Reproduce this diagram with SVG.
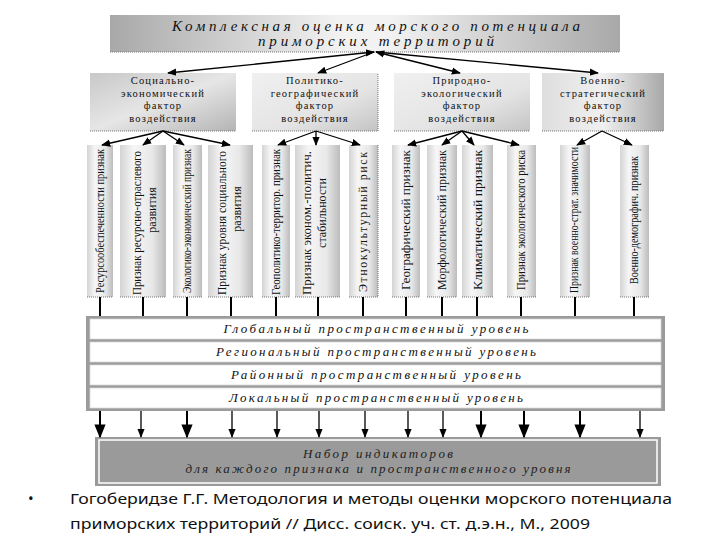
<svg xmlns="http://www.w3.org/2000/svg" width="720" height="540" viewBox="0 0 720 540">
<defs>
<linearGradient id="gTitle" x1="0" y1="0" x2="1" y2="0">
<stop offset="0" stop-color="#a8a8a8"/><stop offset="0.45" stop-color="#f2f2f2"/><stop offset="0.55" stop-color="#f2f2f2"/><stop offset="1" stop-color="#a8a8a8"/>
</linearGradient>
<linearGradient id="gF1" x1="0" y1="0" x2="1" y2="1">
<stop offset="0" stop-color="#c8c8c8"/><stop offset="0.5" stop-color="#e6e6e6"/><stop offset="1" stop-color="#b4b4b4"/>
</linearGradient>
<linearGradient id="gF2" x1="0" y1="0" x2="1" y2="1">
<stop offset="0" stop-color="#f0f0f0"/><stop offset="0.6" stop-color="#e4e4e4"/><stop offset="1" stop-color="#c4c4c4"/>
</linearGradient>
<linearGradient id="gF4" x1="0" y1="0" x2="1" y2="0">
<stop offset="0" stop-color="#dedede"/><stop offset="0.5" stop-color="#f0f0f0"/><stop offset="1" stop-color="#a8a8a8"/>
</linearGradient>
<linearGradient id="gCol" x1="0" y1="0" x2="1" y2="0">
<stop offset="0" stop-color="#d4d4d4"/><stop offset="0.3" stop-color="#f6f6f6"/><stop offset="0.7" stop-color="#e8e8e8"/><stop offset="1" stop-color="#bcbcbc"/>
</linearGradient>
<marker id="ah" viewBox="0 0 10 10" refX="9" refY="5" markerWidth="7" markerHeight="7" orient="auto-start-reverse">
<path d="M0,1 L10,5 L0,9 z" fill="#000"/>
</marker>
</defs>
<style>
.ttl{font-family:'Liberation Serif','DejaVu Serif',serif;font-style:italic;font-size:15px;fill:#111;text-anchor:middle;}
.fac{font-family:'Liberation Serif','DejaVu Serif',serif;font-size:10.5px;fill:#111;text-anchor:middle;letter-spacing:1.2px;}
.col{font-family:'Liberation Serif','DejaVu Serif',serif;font-size:12px;fill:#111;text-anchor:middle;}
.lvl{font-family:'Liberation Serif','DejaVu Serif',serif;font-style:italic;font-size:13px;fill:#111;text-anchor:middle;}
.ind{font-family:'Liberation Serif','DejaVu Serif',serif;font-style:italic;font-size:13px;fill:#222;text-anchor:middle;}
.foot{font-family:'Noto Sans','Liberation Sans',sans-serif;font-size:15px;fill:#111;}
.dot{stroke:#777;stroke-width:1;stroke-dasharray:1,1;fill:none;}
.cn{stroke:#000;stroke-width:1.3;fill:none;}
.vl{stroke:#000;stroke-width:2;fill:none;}
.colbox{fill:url(#gCol);}
</style>

<g id="title">
<rect x="110" y="15" width="510" height="37" fill="url(#gTitle)"/>
<line class="dot" x1="110" y1="52" x2="620" y2="52"/>
<text class="ttl" x="376" y="31" textLength="408" lengthAdjust="spacing">Комплексная оценка морского потенциала</text>
<text class="ttl" x="376" y="46" textLength="236" lengthAdjust="spacing">приморских территорий</text>
</g>

<g id="factor1">
<rect x="90" y="73" width="146" height="58" fill="url(#gF1)"/>
<line class="dot" x1="90" y1="131" x2="236" y2="131"/>
<text class="fac" x="163" y="84">Социально-</text>
<text class="fac" x="163" y="96.5">экономический</text>
<text class="fac" x="163" y="109">фактор</text>
<text class="fac" x="163" y="121.5">воздействия</text>
</g>
<g id="factor2">
<rect x="252" y="73" width="126" height="58" fill="url(#gF2)"/>
<path class="dot" d="M252,131 H378 V73"/>
<text class="fac" x="315" y="84">Политико-</text>
<text class="fac" x="315" y="96.5">географический</text>
<text class="fac" x="315" y="109">фактор</text>
<text class="fac" x="315" y="121.5">воздействия</text>
</g>
<g id="factor3">
<rect x="394" y="73" width="136" height="58" fill="url(#gF2)"/>
<line class="dot" x1="394" y1="131" x2="530" y2="131"/>
<text class="fac" x="462" y="84">Природно-</text>
<text class="fac" x="462" y="96.5">экологический</text>
<text class="fac" x="462" y="109">фактор</text>
<text class="fac" x="462" y="121.5">воздействия</text>
</g>
<g id="factor4">
<rect x="542" y="73" width="122" height="58" fill="url(#gF4)"/>
<line class="dot" x1="542" y1="131" x2="664" y2="131"/>
<text class="fac" x="603" y="84">Военно-</text>
<text class="fac" x="603" y="96.5">стратегический</text>
<text class="fac" x="603" y="109">фактор</text>
<text class="fac" x="603" y="121.5">воздействия</text>
</g>

<g id="c1"><rect class="colbox" x="87" y="145" width="26" height="152"/><line class="dot" x1="87" y1="297" x2="113" y2="297"/>
<text class="col" transform="translate(104,221) rotate(-90)" textLength="144" lengthAdjust="spacingAndGlyphs">Ресурсообеспеченности признак</text></g>
<g id="c2"><rect class="colbox" x="120" y="145" width="46" height="152"/><line class="dot" x1="120" y1="297" x2="166" y2="297"/>
<text class="col" transform="translate(141,223) rotate(-90)" textLength="144" lengthAdjust="spacingAndGlyphs">Признак ресурсно-отраслевого</text>
<text class="col" transform="translate(156,210) rotate(-90)">развития</text></g>
<g id="c3"><rect class="colbox" x="173" y="145" width="29" height="152"/><line class="dot" x1="173" y1="297" x2="202" y2="297"/>
<text class="col" transform="translate(191,221) rotate(-90)" textLength="144" lengthAdjust="spacingAndGlyphs">Экологико-экономический признак</text></g>
<g id="c4"><rect class="colbox" x="208" y="145" width="45" height="152"/><line class="dot" x1="208" y1="297" x2="253" y2="297"/>
<text class="col" transform="translate(226,223) rotate(-90)" textLength="144" lengthAdjust="spacingAndGlyphs">Признак уровня социального</text>
<text class="col" transform="translate(241,209) rotate(-90)">развития</text></g>
<g id="c5"><rect class="colbox" x="262" y="145" width="28" height="152"/><line class="dot" x1="262" y1="297" x2="290" y2="297"/>
<text class="col" transform="translate(280,222) rotate(-90)" textLength="146" lengthAdjust="spacingAndGlyphs">Геополитико-территор. признак</text></g>
<g id="c6"><rect class="colbox" x="295" y="145" width="45" height="152"/><line class="dot" x1="295" y1="297" x2="340" y2="297"/>
<text class="col" transform="translate(311,223) rotate(-90)" textLength="144" lengthAdjust="spacingAndGlyphs">Признак эконом.-политич.</text>
<text class="col" transform="translate(326,213) rotate(-90)">стабильности</text></g>
<g id="c7"><rect class="colbox" x="349" y="145" width="29" height="152"/><path class="dot" d="M349,297 H378 V145"/>
<text class="col" transform="translate(367,222) rotate(-90)" textLength="140" lengthAdjust="spacing">Этнокультурный риск</text></g>
<g id="c8"><rect class="colbox" x="392" y="145" width="28" height="152"/><line class="dot" x1="392" y1="297" x2="420" y2="297"/>
<text class="col" transform="translate(410,220) rotate(-90)" textLength="140" lengthAdjust="spacingAndGlyphs">Географический признак</text></g>
<g id="c9"><rect class="colbox" x="427" y="145" width="30" height="152"/><line class="dot" x1="427" y1="297" x2="457" y2="297"/>
<text class="col" transform="translate(446,220) rotate(-90)" textLength="140" lengthAdjust="spacingAndGlyphs">Морфологический признак</text></g>
<g id="c10"><rect class="colbox" x="462" y="145" width="31" height="152"/><line class="dot" x1="462" y1="297" x2="493" y2="297"/>
<text class="col" transform="translate(482,220) rotate(-90)" textLength="140" lengthAdjust="spacingAndGlyphs">Климатический признак</text></g>
<g id="c11"><rect class="colbox" x="507" y="145" width="29" height="152"/><line class="dot" x1="507" y1="297" x2="536" y2="297"/>
<text class="col" transform="translate(525,220) rotate(-90)" textLength="140" lengthAdjust="spacingAndGlyphs">Признак экологического риска</text></g>
<g id="c12"><rect class="colbox" x="560" y="145" width="30" height="152"/><line class="dot" x1="560" y1="297" x2="590" y2="297"/>
<text class="col" transform="translate(578,220) rotate(-90)" textLength="146" lengthAdjust="spacingAndGlyphs">Признак военно-страт. значимости</text></g>
<g id="c13"><rect class="colbox" x="620" y="145" width="29" height="152"/><line class="dot" x1="620" y1="297" x2="649" y2="297"/>
<text class="col" transform="translate(638,220) rotate(-90)" textLength="128" lengthAdjust="spacingAndGlyphs">Военно-демографич. признак</text></g>

<g id="levels">
<rect x="86" y="316" width="579" height="95" fill="#9b9b9b"/>
<rect x="90" y="319" width="571" height="20" fill="#fff" stroke="#d8d8d8" stroke-width="0.8"/>
<rect x="90" y="342" width="571" height="20" fill="#fff" stroke="#d8d8d8" stroke-width="0.8"/>
<rect x="90" y="365" width="571" height="20" fill="#fff" stroke="#d8d8d8" stroke-width="0.8"/>
<rect x="90" y="388" width="571" height="20" fill="#fff" stroke="#d8d8d8" stroke-width="0.8"/>
<text class="lvl" x="376" y="333" textLength="305" lengthAdjust="spacing">Глобальный пространственный уровень</text>
<text class="lvl" x="376" y="356" textLength="320" lengthAdjust="spacing">Региональный пространственный уровень</text>
<text class="lvl" x="376" y="379" textLength="290" lengthAdjust="spacing">Районный пространственный уровень</text>
<text class="lvl" x="376" y="402" textLength="294" lengthAdjust="spacing">Локальный пространственный уровень</text>
</g>

<g id="indicators">
<rect x="95" y="437" width="566" height="49" fill="#9a9a9a"/>
<rect x="99" y="440" width="558" height="43" fill="none" stroke="#fff" stroke-width="1.5"/>
<text class="ind" x="378" y="458" textLength="150" lengthAdjust="spacing">Набор индикаторов</text>
<text class="ind" x="378" y="473" textLength="385" lengthAdjust="spacing">для каждого признака и пространственного уровня</text>
</g>

<g id="connectors">
<line class="cn" x1="374" y1="52" x2="168" y2="73" marker-end="url(#ah)" marker-start="url(#ah)"/>
<line class="cn" x1="374" y1="52" x2="318" y2="73" marker-end="url(#ah)"/>
<line class="cn" x1="376" y1="52" x2="460" y2="73" marker-end="url(#ah)" marker-start="url(#ah)"/>
<line class="cn" x1="376" y1="52" x2="598" y2="73" marker-end="url(#ah)"/>

<line class="cn" x1="163" y1="131" x2="102" y2="145" marker-end="url(#ah)"/>
<line class="cn" x1="163" y1="131" x2="143" y2="145" marker-end="url(#ah)"/>
<line class="cn" x1="163" y1="131" x2="184" y2="145" marker-end="url(#ah)"/>
<line class="cn" x1="163" y1="131" x2="230" y2="145" marker-end="url(#ah)"/>
<line class="cn" x1="316" y1="131" x2="278" y2="145" marker-end="url(#ah)"/>
<line class="cn" x1="316" y1="131" x2="316" y2="145" marker-end="url(#ah)"/>
<line class="cn" x1="316" y1="131" x2="360" y2="145" marker-end="url(#ah)"/>
<line class="cn" x1="462" y1="131" x2="408" y2="145" marker-end="url(#ah)"/>
<line class="cn" x1="462" y1="131" x2="442" y2="145" marker-end="url(#ah)"/>
<line class="cn" x1="462" y1="131" x2="474" y2="145" marker-end="url(#ah)"/>
<line class="cn" x1="462" y1="131" x2="519" y2="145" marker-end="url(#ah)"/>
<line class="cn" x1="602" y1="131" x2="577" y2="145" marker-end="url(#ah)"/>
<line class="cn" x1="602" y1="131" x2="632" y2="145" marker-end="url(#ah)"/>

<path class="vl" d="M100,297 V316 M143,297 V316 M187,297 V316 M231,297 V316 M276,297 V316 M318,297 V316 M363,297 V316 M406,297 V316 M442,297 V316 M477,297 V316 M521,297 V316 M575,297 V316 M634,297 V316"/>

<g marker-end="url(#ah)">
<line class="vl" x1="100" y1="411" x2="100" y2="437"/>
<line class="cn" x1="141" y1="411" x2="141" y2="437"/>
<line class="vl" x1="187" y1="411" x2="187" y2="437"/>
<line class="cn" x1="232" y1="411" x2="232" y2="437"/>
<line class="cn" x1="277" y1="411" x2="277" y2="437"/>
<line class="cn" x1="319" y1="411" x2="319" y2="437"/>
<line class="cn" x1="365" y1="411" x2="365" y2="437"/>
<line class="cn" x1="408" y1="411" x2="408" y2="437"/>
<line class="cn" x1="443" y1="411" x2="443" y2="437"/>
<line class="vl" x1="481" y1="411" x2="481" y2="437"/>
<line class="vl" x1="524" y1="411" x2="524" y2="437"/>
<line class="vl" x1="580" y1="411" x2="580" y2="437"/>
<line class="cn" x1="640" y1="411" x2="640" y2="437"/>
</g>
</g>

<g id="footnote">
<text class="foot" x="28" y="504">•</text>
<text class="foot" x="70" y="504" textLength="602" lengthAdjust="spacingAndGlyphs">Гогоберидзе Г.Г. Методология и методы оценки морского потенциала</text>
<text class="foot" x="70" y="529" textLength="520" lengthAdjust="spacingAndGlyphs">приморских территорий // Дисс. соиск. уч. ст. д.э.н., М., 2009</text>
</g>
</svg>
